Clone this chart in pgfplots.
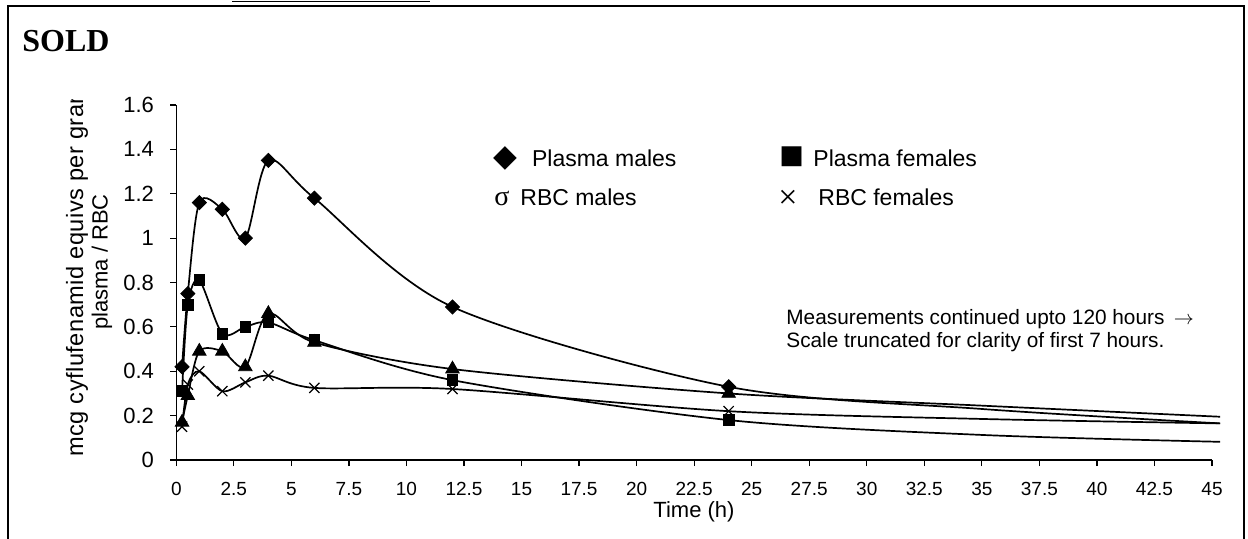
\documentclass[border=0pt]{standalone}
\usepackage{fontspec}
\setmainfont{Liberation Sans}
\newfontfamily\timesfont{Liberation Serif}
\newfontfamily\dejavu{DejaVu Sans}
\usepackage{pgfplots}
\usepackage{pgfplotstable}
\pgfplotsset{compat=1.18}
\newcommand\fs[1]{\fontsize{#1}{#1}\selectfont}

% t (h), mcg equivalents per gram; the last two rows of each table are
% read off the curve beyond 24 h (no marker there)
\pgfplotstableread{
t v
0.25 0.42
0.5 0.75
1 1.16
2 1.13
3 1.00
4 1.35
6 1.18
12 0.69
24 0.33
35 0.23
45.35 0.165
}\plasmamales
\pgfplotstableread{
t v
0.25 0.31
0.5 0.70
1 0.81
2 0.57
3 0.60
4 0.62
6 0.54
12 0.36
24 0.18
35 0.113
45.35 0.082
}\plasmafemales
\pgfplotstableread{
t v
0.25 0.17
0.5 0.29
1 0.49
2 0.49
3 0.42
4 0.66
6 0.53
12 0.41
24 0.30
35 0.245
45.35 0.195
}\rbcmales
\pgfplotstableread{
t v
0.25 0.15
0.5 0.34
1 0.40
2 0.31
3 0.35
4 0.38
6 0.325
12 0.32
24 0.22
35 0.185
45.35 0.165
}\rbcfemales

\begin{document}
\begin{tikzpicture}
\useasboundingbox (0pt,0pt) rectangle (624pt,269pt);
% frame of the report page
\draw[line width=1pt] (3.75pt,-5pt) -- (3.75pt,266.25pt) -- (621.75pt,266.25pt) -- (621.75pt,-5pt);
\draw[line width=0.8pt] (116pt,268.3pt) -- (215pt,268.3pt);
\node[anchor=base west, inner sep=0pt, font=\timesfont\bfseries\fs{16}] at (11pt,243.15pt) {SOLD};

\begin{axis}[
  at={(88.15pt,39pt)}, anchor=origin,
  scale only axis, width=517.85pt, height=177.5pt,
  xmin=0, xmax=45, ymin=0, ymax=1.6,
  axis x line=bottom, axis y line=left,
  axis line style={-, line width=0.6pt},
  tick align=outside, major tick length=3pt,
  tick style={black, line width=0.6pt},
  xtick={0,2.5,5,7.5,10,12.5,15,17.5,20,22.5,25,27.5,30,32.5,35,37.5,40,42.5,45},
  ytick={0,0.2,0.4,0.6,0.8,1,1.2,1.4,1.6},
  /pgf/number format/.cd, fixed, precision=1, assume math mode=true,
  /pgfplots/.cd,
  xticklabel style={font=\fs{9.5}, anchor=base, inner sep=0pt, yshift=-14.6pt},
  yticklabel style={font=\fs{11}, anchor=east, inner sep=0pt, xshift=-8pt},
  clip=false,
  every axis plot/.append style={black, line width=0.85pt, smooth},
]
\addplot[mark=square*, mark size=2.5pt, mark indices={1,2,3,4,5,6,7,8,9},
  mark options={rotate=45, line width=0.4pt}] table {\plasmamales};
\addplot[mark=square*, mark size=2.7pt, mark indices={1,2,3,4,5,6,7,8,9},
  mark options={line width=0.4pt}] table {\plasmafemales};
\addplot[mark=triangle*, mark size=3.9pt, mark indices={1,2,3,4,5,6,7,8,9},
  mark options={line width=0.4pt}] table {\rbcmales};
\addplot[mark=x, mark size=3.6pt, mark indices={1,2,3,4,5,6,7,8,9},
  mark options={line width=0.6pt}] table {\rbcfemales};
\end{axis}

% axis titles
\node[font=\fs{11}, anchor=base, inner sep=0pt] at (347pt,10.3pt) {Time (h)};
\begin{scope}
\clip (0pt,0pt) rectangle (624pt,219.5pt);
\node[font=\fs{11.8}\addfontfeatures{LetterSpace=2}, rotate=90, anchor=west, inner sep=0pt] at (38.5pt,40.5pt) {mcg cyflufenamid equivs per gram};
\end{scope}
\node[font=\fs{11}, rotate=90, anchor=center, inner sep=0pt] at (51pt,138pt) {plasma / RBC};

% legend (a text box in the original)
\node[font=\dejavu\fs{15.5}, inner sep=0pt] at (252.5pt,190pt) {◆};
\node[font=\fs{11.5}, anchor=base west, inner sep=0pt] at (265.85pt,185.85pt) {Plasma males};
\node[font=\dejavu\fs{13}, inner sep=0pt] at (395.85pt,190.5pt) {■};
\node[font=\fs{11.5}, anchor=base west, inner sep=0pt] at (406.5pt,185.85pt) {Plasma females};
\node[font=\timesfont\fs{14}, anchor=base, inner sep=0pt] at (251pt,166.5pt) {σ};
\node[font=\fs{11.5}, anchor=base west, inner sep=0pt] at (260pt,166.5pt) {RBC males};
\node[font=\timesfont\fs{17}, inner sep=0pt] at (394pt,169.5pt) {×};
\node[font=\fs{11.5}, anchor=base west, inner sep=0pt] at (409pt,166.5pt) {RBC females};

% note
\node[font=\fs{10.4}, anchor=base west, inner sep=0pt] at (393pt,107pt) {Measurements continued upto 120 hours\, $\rightarrow$};
\node[font=\fs{10.4}, anchor=base west, inner sep=0pt] at (393pt,95.25pt) {Scale truncated for clarity of first 7 hours.};
\end{tikzpicture}
\end{document}
